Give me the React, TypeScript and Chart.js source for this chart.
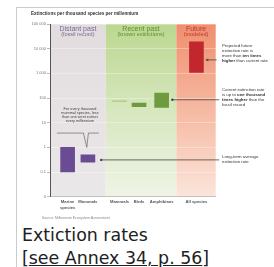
import React, { useEffect, useRef } from "react";
import { Chart, registerables } from "chart.js";

Chart.register(...registerables);

// ---------- data ----------
const categories: (string | string[])[] = [["Marine", "species"], "Mammals", "Mammals", "Birds", "Amphibians", "All species"];
const columnSlots = [0.85, 1.83, 3.36, 4.3, 5.39, 7.07];
const rateLow = [0.1, 0.25, 72, 45, 42, 1100];
const rateHigh = [1, 0.5, 77, 63, 160, 19000];

const eras = ["Distant past", "Recent past", "Future"];
const eraNotes = ["(fossil record)", "(known extinctions)", "(modeled)"];
const eraBounds = [0, 2.69, 6.1, 8];

const yTickValues = [0.01, 0.1, 1, 10, 100, 1000, 10000, 100000];
const yTickLabels = ["0", "0.1", "1", "10", "100", "1 000", "10 000", "100 000"];

const chartTitle = "Extinctions per thousand species per millennium";
const sourceText = "Source: Millennium Ecosystem Assessment";

const calloutLines = ["For every thousand", "mammal species, less", "than one went extinct", "every millennium"];
const calloutLevel = 3.8;

const noteBars = [5, 4, 1];
const noteLevels = [3500, 85, 0.31];
const noteLines = [
  ["Projected future", "extinction rate is", "more than *ten times*", "*higher* than current rate"],
  ["Current extinction rate", "is up to *one thousand*", "*times higher* than the", "fossil record"],
  ["Long-term average", "extinction rate"],
];

// ---------- styles ----------
const FONT = '"Liberation Sans", Arial, sans-serif';
const barColors = ["#6a4c93", "#6a4c93", "#a9c97e", "#6f9a3e", "#6f9a3e", "#c1272d"];
const eraText = ["#7a6b92", "#5f8f2e", "#b8382a"];
const noteFirstOffset = [-14, -10, -3.5];
const noteGap = [2.3, 3.7, 6.3];

function drawRich(ctx: CanvasRenderingContext2D, x: number, y: number, line: string, size: number) {
  const parts = line.split("*");
  let cx = x;
  parts.forEach((t, i) => {
    if (!t) return;
    ctx.font = `${i % 2 === 1 ? "bold " : ""}${size}px ${FONT}`;
    ctx.fillText(t, cx, y);
    cx += ctx.measureText(t).width;
  });
}

const decor = {
  id: "decor",
  beforeDraw(chart: any) {
    const { ctx, chartArea: a, scales } = chart;
    const xs = scales.x;
    ctx.save();
    for (let i = 0; i < 3; i++) {
      const x0 = xs.getPixelForValue(eraBounds[i]);
      const x1 = xs.getPixelForValue(eraBounds[i + 1]);
      const fill = ctx.createLinearGradient(0, a.top, 0, a.bottom);
      if (i === 0) {
        fill.addColorStop(0, "#e2dcdf");
        fill.addColorStop(1, "#ebe8e9");
      } else if (i === 1) {
        fill.addColorStop(0, "#bbd790");
        fill.addColorStop(0.5, "#d7e7bf");
        fill.addColorStop(1, "#eff4e6");
      } else {
        fill.addColorStop(0, "#f08e6e");
        fill.addColorStop(0.5, "#f6b9a2");
        fill.addColorStop(1, "#fbe5db");
      }
      ctx.fillStyle = fill;
      ctx.fillRect(x0, a.top, x1 - x0, a.bottom - a.top);
      const cx = (x0 + x1) / 2;
      ctx.textAlign = "center";
      ctx.textBaseline = "middle";
      ctx.fillStyle = eraText[i];
      ctx.font = `7px ${FONT}`;
      ctx.fillText(eras[i], cx, a.top + 5);
      ctx.font = `5.5px ${FONT}`;
      ctx.fillText(eraNotes[i], cx, a.top + 10.5);
    }
    ctx.textAlign = "left";
    ctx.textBaseline = "middle";
    ctx.fillStyle = "#333";
    ctx.font = `bold 4.6px ${FONT}`;
    ctx.fillText(chartTitle, a.left - 19, a.top - 10);
    ctx.restore();
  },
  afterDatasetsDraw(chart: any) {
    const { ctx, chartArea: a, scales } = chart;
    const xs = scales.x;
    const ys = scales.y;
    const half = 7;
    ctx.save();
    ctx.strokeStyle = "#444";
    ctx.fillStyle = "#444";
    ctx.lineWidth = 0.8;
    noteBars.forEach((b, i) => {
      const y = ys.getPixelForValue(noteLevels[i]);
      const x0 = xs.getPixelForValue(columnSlots[b]) + half + noteGap[i];
      const x1 = i === 0 ? a.right + 1 : a.right + 3.5;
      ctx.beginPath();
      ctx.moveTo(x0, y);
      ctx.lineTo(x1, y);
      ctx.stroke();
      if (i === 0) {
        ctx.beginPath();
        ctx.moveTo(x0, y);
        ctx.lineTo(x0 + 2.5, y - 1.4);
        ctx.lineTo(x0 + 2.5, y + 1.4);
        ctx.closePath();
        ctx.fill();
      } else {
        ctx.beginPath();
        ctx.arc(x0, y, 1.2, 0, Math.PI * 2);
        ctx.fill();
      }
      ctx.fillStyle = "#333";
      ctx.textAlign = "left";
      ctx.textBaseline = "middle";
      noteLines[i].forEach((ln, k) => {
        drawRich(ctx, a.right + 6.3, y + noteFirstOffset[i] + k * 5, ln, 4.3);
      });
      ctx.fillStyle = "#444";
    });
    const by = ys.getPixelForValue(calloutLevel);
    const bl = xs.getPixelForValue(columnSlots[0]) - half - 3.7;
    const br = xs.getPixelForValue(columnSlots[1]) + half + 4;
    const mx = xs.getPixelForValue(columnSlots[1]);
    const tipY = ys.getPixelForValue(1);
    ctx.strokeStyle = "#666";
    ctx.lineWidth = 0.7;
    ctx.beginPath();
    ctx.moveTo(bl, by);
    ctx.lineTo(mx - 4.5, by);
    ctx.lineTo(mx - 1.1, tipY);
    ctx.lineTo(mx + 0.5, by);
    ctx.lineTo(br, by);
    ctx.stroke();
    ctx.fillStyle = "#444";
    ctx.textAlign = "center";
    ctx.textBaseline = "middle";
    ctx.font = `3.8px ${FONT}`;
    const cx = (bl + br) / 2 + 2;
    calloutLines.forEach((ln, k) => ctx.fillText(ln, cx, by - 24 + k * 4.1));
    ctx.textAlign = "left";
    ctx.fillStyle = "#888";
    ctx.font = `3.5px ${FONT}`;
    ctx.fillText(sourceText, a.left - 8, a.bottom + 21);
    ctx.restore();
  },
};

function ChartCanvas() {
  const ref = useRef<HTMLCanvasElement | null>(null);
  useEffect(() => {
    if (!ref.current) return;
    const chart = new Chart(ref.current, {
      type: "bar",
      data: {
        datasets: [
          {
            data: columnSlots.map((x, i) => ({ x, y: [rateLow[i], rateHigh[i]] })) as any,
            backgroundColor: barColors,
            borderWidth: 0,
            borderSkipped: false,
            barThickness: 14,
          },
        ],
      },
      options: {
        animation: false,
        responsive: false,
        devicePixelRatio: 1,
        events: [],
        layout: { padding: { left: 0, top: 16, right: 58.3, bottom: 0 } },
        plugins: { legend: { display: false }, tooltip: { enabled: false } },
        scales: {
          x: {
            type: "linear",
            min: 0,
            max: 8,
            offset: false,
            grid: { display: false, offset: false, drawTicks: false },
            border: { display: true, color: "#a9a9a9", width: 0.7 },
            afterBuildTicks: (s: any) => {
              s.ticks = columnSlots.map((v) => ({ value: v }));
            },
            afterFit: (s: any) => {
              s.height = 26.3;
            },
            ticks: {
              autoSkip: false,
              maxRotation: 0,
              padding: 2.5,
              color: "#555",
              font: { family: FONT, size: 4.2, weight: "bold", lineHeight: 1.3 },
              callback: (_v: any, i: number) => categories[i] as any,
            },
          },
          y: {
            type: "logarithmic",
            min: 0.01,
            max: 100000,
            grid: {
              color: "rgba(255,255,255,0.55)",
              lineWidth: 0.6,
              drawTicks: true,
              tickLength: 3,
              tickColor: "#8a8a8a",
            },
            border: { display: true, color: "#555", width: 1 },
            afterBuildTicks: (s: any) => {
              s.ticks = yTickValues.map((v) => ({ value: v }));
            },
            afterFit: (s: any) => {
              s.width = 33;
            },
            ticks: {
              padding: 1,
              color: "#777",
              font: { family: FONT, size: 4 },
              callback: (v: any) => {
                const k = yTickValues.indexOf(Number(v));
                return k >= 0 ? yTickLabels[k] : "";
              },
            },
          },
        },
      } as any,
      plugins: [decor],
    });
    return () => chart.destroy();
  }, []);
  return (
    <canvas
      ref={ref}
      width={257}
      height={215}
      style={{ position: "absolute", left: 17, top: 8, width: 257, height: 215 }}
    />
  );
}

export default function App() {
  return (
    <div
      style={{
        position: "absolute",
        left: 0,
        top: 0,
        width: 274,
        height: 267,
        overflow: "hidden",
        background: "#fff",
      }}
    >
      <div
        style={{
          position: "absolute",
          left: 16,
          top: 7,
          width: 300,
          height: 300,
          borderLeft: "1px solid #c8ccd1",
          borderTop: "1px solid #c8ccd1",
          boxSizing: "border-box",
        }}
      />
      <ChartCanvas />
      <div
        style={{
          position: "absolute",
          left: 22,
          top: 224.4,
          fontFamily: '"DejaVu Sans", Verdana, sans-serif',
          fontSize: 17.4,
          lineHeight: "23px",
          color: "#202122",
          whiteSpace: "nowrap",
        }}
      >
        Extiction rates
        <br />[<span style={{ textDecoration: "underline" }}>see Annex 34, p. 56</span>]
      </div>
    </div>
  );
}
